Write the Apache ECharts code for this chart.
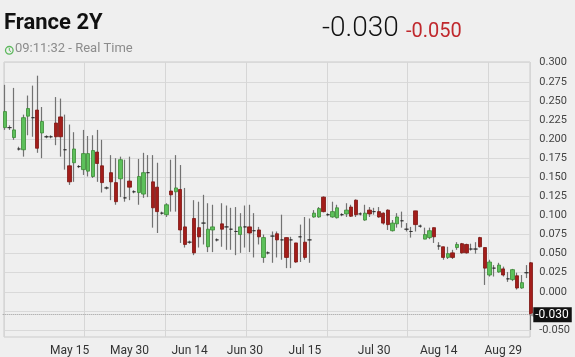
<!DOCTYPE html>
<html><head><meta charset="utf-8">
<script src="https://cdn.jsdelivr.net/npm/echarts@6/dist/echarts.min.js"></script>
<style>html,body{margin:0;padding:0;background:#efefef}#c{width:575px;height:357px}</style>
</head><body><div id="c"></div>
<script>
const instrument = 'France 2Y';
const timeText = '09:11:32 - Real Time';
const lastValue = -0.030;
const changeValue = -0.050;

const opens = [0.215,0.215,0.202,0.187,0.186,0.230,0.228,0.238,0.208,0.203,0.203,0.221,0.229,0.186,0.165,0.169,0.164,0.160,0.158,0.151,
0.183,0.165,0.136,0.156,0.143,0.148,0.123,0.145,0.131,0.130,0.128,0.156,0.144,0.137,0.103,0.101,0.132,0.131,0.134,0.085,
0.065,0.096,0.084,0.090,0.059,0.081,0.068,0.089,0.085,0.082,0.079,0.075,0.085,0.085,0.080,0.081,0.045,0.051,0.073,0.076,
0.068,0.071,0.068,0.064,0.072,0.065,0.068,0.098,0.098,0.124,0.101,0.098,0.097,0.101,0.102,0.111,0.120,0.102,0.094,0.107,
0.105,0.105,0.103,0.107,0.080,0.089,0.093,0.082,0.079,0.106,0.086,0.069,0.071,0.084,0.060,0.059,0.045,0.051,0.058,0.063,
0.062,0.056,0.056,0.071,0.058,0.022,0.031,0.026,0.030,0.017,0.016,0.021,0.005,0.025,0.038];
const closes = [0.236,0.215,0.212,0.187,0.228,0.240,0.228,0.188,0.223,0.203,0.203,0.203,0.203,0.186,0.144,0.187,0.164,0.181,0.181,0.185,
0.168,0.143,0.136,0.144,0.118,0.173,0.123,0.137,0.131,0.151,0.156,0.156,0.110,0.105,0.103,0.114,0.127,0.136,0.081,0.062,
0.065,0.051,0.072,0.090,0.082,0.085,0.068,0.082,0.085,0.082,0.079,0.085,0.085,0.077,0.080,0.072,0.071,0.051,0.073,0.068,
0.068,0.045,0.068,0.039,0.072,0.045,0.068,0.103,0.109,0.105,0.101,0.105,0.110,0.101,0.107,0.099,0.101,0.102,0.103,0.102,
0.105,0.098,0.090,0.088,0.090,0.098,0.093,0.082,0.079,0.088,0.086,0.075,0.080,0.072,0.060,0.045,0.050,0.045,0.062,0.051,
0.051,0.056,0.056,0.059,0.031,0.039,0.031,0.035,0.022,0.017,0.029,0.005,0.012,0.025,-0.030];
const lows = [0.212,0.212,0.199,0.185,0.177,0.205,0.203,0.182,0.175,0.201,0.201,0.192,0.177,0.160,0.140,0.144,0.162,0.153,0.151,0.149,
0.144,0.130,0.134,0.120,0.114,0.124,0.118,0.120,0.129,0.114,0.123,0.124,0.084,0.077,0.101,0.098,0.105,0.105,0.064,0.058,
0.063,0.048,0.058,0.062,0.052,0.052,0.066,0.059,0.055,0.055,0.048,0.051,0.058,0.052,0.045,0.062,0.038,0.049,0.038,0.045,
0.042,0.031,0.031,0.038,0.039,0.042,0.038,0.097,0.097,0.104,0.099,0.097,0.096,0.099,0.098,0.098,0.098,0.100,0.093,0.098,
0.101,0.097,0.088,0.081,0.079,0.084,0.084,0.079,0.071,0.079,0.084,0.069,0.069,0.064,0.055,0.042,0.043,0.043,0.055,0.050,
0.050,0.054,0.050,0.058,0.009,0.020,0.020,0.025,0.020,0.013,0.014,0.003,0.004,0.018,-0.050];
const highs = [0.271,0.218,0.267,0.190,0.232,0.257,0.270,0.283,0.242,0.205,0.205,0.255,0.253,0.232,0.219,0.209,0.166,0.212,0.204,0.205,
0.212,0.199,0.138,0.179,0.175,0.177,0.173,0.177,0.133,0.174,0.182,0.179,0.179,0.169,0.105,0.116,0.173,0.179,0.166,0.136,
0.067,0.120,0.118,0.127,0.116,0.114,0.070,0.116,0.113,0.110,0.111,0.103,0.113,0.114,0.103,0.085,0.075,0.053,0.079,0.079,
0.101,0.071,0.072,0.064,0.088,0.098,0.096,0.107,0.111,0.125,0.103,0.118,0.114,0.103,0.116,0.114,0.121,0.104,0.114,0.111,
0.110,0.111,0.104,0.108,0.094,0.103,0.105,0.090,0.085,0.106,0.088,0.084,0.084,0.084,0.065,0.059,0.059,0.055,0.065,0.064,
0.063,0.063,0.065,0.072,0.058,0.042,0.035,0.038,0.033,0.026,0.030,0.025,0.022,0.035,0.039];

const tickIndex = [14,27,40,52,65,80,94,108];
const tickLabels = ['May 15','May 30','Jun 14','Jun 30','Jul 15','Jul 30','Aug 14','Aug 29'];
const yMin = -0.05, yMax = 0.3, yStep = 0.025;

const categories = opens.map((_, i) => {
  const k = tickIndex.indexOf(i);
  return k >= 0 ? tickLabels[k] : '';
});
const wickData = opens.map((o, i) => [o, closes[i], lows[i], highs[i]]);
const bodyData = opens.map((o, i) => [o, closes[i], Math.min(o, closes[i]), Math.max(o, closes[i])]);

const FONT = 'Roboto';
const chart = echarts.init(document.getElementById('c'));
chart.setOption({
  backgroundColor: '#efefef',
  animation: false,
  textStyle: { fontFamily: FONT },
  title: [
    { text: instrument, left: 4, top: 12, padding: 0, textStyle: { fontSize: 22, fontWeight: 'bold', color: '#111', fontFamily: FONT } },
    { text: timeText, left: 15, top: 42, padding: 0, textStyle: { fontSize: 13, fontWeight: 'normal', color: '#8c8c8c', fontFamily: FONT } },
    { text: lastValue.toFixed(3), left: 322, top: 15, padding: 0, textStyle: { fontSize: 28, fontWeight: 300, color: '#111', fontFamily: FONT } },
    { text: changeValue.toFixed(3), left: 406, top: 22, padding: 0, textStyle: { fontSize: 20, fontWeight: 'normal', color: '#c0282d', fontFamily: FONT } }
  ],
  graphic: [{
    type: 'group', left: 3, top: 44,
    children: [
      { type: 'circle', shape: { cx: 4.5, cy: 4.5, r: 3.8 }, style: { fill: 'none', stroke: '#5cb85c', lineWidth: 1.3 } },
      { type: 'polyline', shape: { points: [[4.5, 2.2], [4.5, 4.7], [6.3, 5.9]] }, style: { fill: 'none', stroke: '#5cb85c', lineWidth: 1 } }
    ]
  }],
  grid: [
    { left: 2.7, width: 530.6, top: 62.7, height: 267.3 },
    { left: 4, width: 526, top: 62, height: 275, show: true, borderColor: '#cbcbcb', borderWidth: 1, backgroundColor: 'transparent' },
    { left: 4, width: 526, top: 62.7, height: 267.3 }
  ],
  xAxis: [
    { type: 'category', gridIndex: 0, data: categories, boundaryGap: true,
      axisLine: { show: false }, axisTick: { show: false }, splitLine: { show: false },
      axisLabel: { interval: 0, margin: 15, fontSize: 12, color: '#333', fontFamily: FONT } },
    { type: 'value', gridIndex: 1, min: 0, max: 6.518, interval: 1,
      axisLine: { show: false }, axisTick: { show: false }, axisLabel: { show: false },
      splitLine: { show: true, lineStyle: { color: '#d6d6d6', width: 1 } } },
    { type: 'value', gridIndex: 2, show: false, min: 0, max: 1, splitLine: { show: false } }
  ],
  yAxis: [
    { type: 'value', gridIndex: 0, position: 'right', min: yMin, max: yMax, interval: yStep,
      axisLine: { show: false }, axisTick: { show: false }, splitLine: { show: false },
      axisLabel: { margin: 6, fontSize: 11, color: '#444', fontFamily: FONT, padding: [4, 0, 0, 0],
        formatter: v => (Math.abs(v + 0.025) < 1e-9 ? '' : (Math.abs(v) < 1e-9 ? 0 : v).toFixed(3)) } },
    { type: 'value', gridIndex: 1, show: false, min: 0, max: 1, splitLine: { show: false } },
    { type: 'value', gridIndex: 2, min: yMin, max: yMax, interval: yStep,
      axisLine: { show: false }, axisTick: { show: false }, axisLabel: { show: false },
      splitLine: { show: true, lineStyle: { color: '#d9d9d9', width: 1 } } }
  ],
  series: [
    { type: 'candlestick', xAxisIndex: 0, yAxisIndex: 0, data: wickData, barWidth: 1,
      itemStyle: { color: '#727272', color0: '#727272', borderColor: '#727272', borderColor0: '#727272', borderColorDoji: '#727272', borderWidth: 1.2 } },
    { type: 'candlestick', xAxisIndex: 0, yAxisIndex: 0, data: bodyData, barWidth: 3.8,
      itemStyle: { color: '#5cc05a', color0: '#a31d1a', borderColor: '#3b8a35', borderColor0: '#7d1512', borderColorDoji: '#2a2a2a', borderWidth: 0.8 },
      markLine: {
        silent: true, symbol: ['none', 'triangle'], symbolSize: 8, symbolRotate: 90,
        lineStyle: { type: 'dotted', color: '#9a9a9a', width: 1 },
        label: { position: 'end', distance: 0, formatter: lastValue.toFixed(3), backgroundColor: '#111', color: '#fff',
          padding: [2, 3, 1, 2], fontSize: 12, fontFamily: FONT },
        data: [{ yAxis: lastValue }]
      } }
  ]
});
</script></body></html>
